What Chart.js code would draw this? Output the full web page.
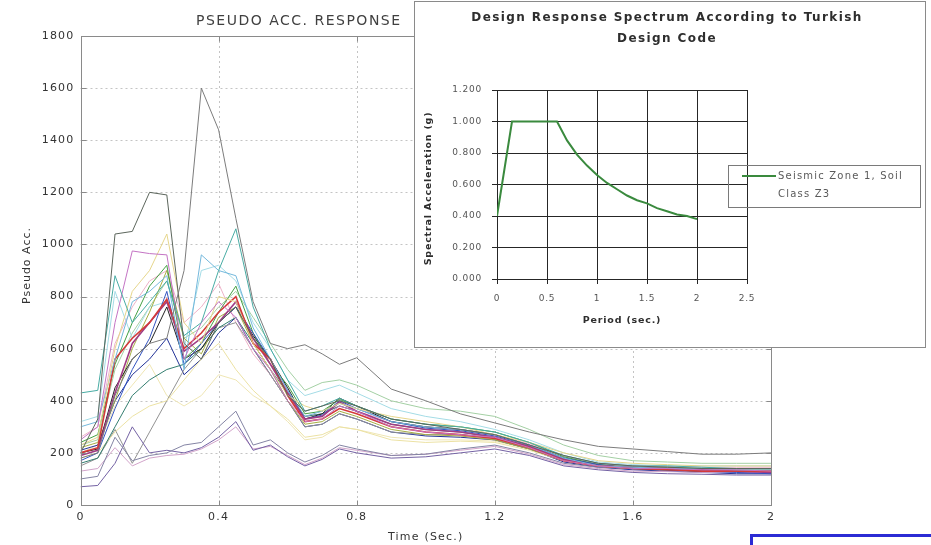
<!DOCTYPE html>
<html>
<head>
<meta charset="utf-8">
<title>Pseudo acceleration response spectra</title>
<script src="https://cdn.jsdelivr.net/npm/chart.js@4.4.1/dist/chart.umd.min.js"></script>
<style>
  html, body { margin: 0; padding: 0; background: #fff; overflow: hidden; }
  #wrap { position: relative; width: 931px; height: 545px; overflow: hidden; }
  #main { position: absolute; left: 0; top: 0; width: 931px; height: 545px; }
  #inset { position: absolute; left: 414px; top: 1px; width: 510px; height: 345px;
           border: 1px solid #8a8a8a; background: #fff; }
  #blue { position: absolute; left: 750px; top: 534px; width: 220px; height: 40px;
          border: 3px solid #2b2bd4; }
</style>
</head>
<body>
<div id="wrap">
  <div id="main"><canvas id="respChart"></canvas></div>
  <div id="inset"><canvas id="codeChart"></canvas></div>
  <div id="blue"></div>
</div>
<script>
// ---- Pseudo acceleration response spectra of the records ----
const periodSec = [0, 0.05, 0.1, 0.15, 0.2, 0.25, 0.3, 0.35, 0.4, 0.45, 0.5, 0.55, 0.6, 0.65, 0.7,
                   0.75, 0.8, 0.9, 1.0, 1.1, 1.2, 1.3, 1.4, 1.5, 1.6, 1.7, 1.8, 1.9, 2.0];

const rec01 = [180, 200, 420, 560, 620, 640, 900, 1600, 1440, 1100, 780, 620, 600, 615, 580, 540, 565, 445, 400, 350, 315, 280, 250, 225, 215, 205, 195, 195, 200];
const rec02 = [200, 330, 1040, 1050, 1200, 1190, 620, 560, 700, 760, 640, 560, 420, 360, 380, 400, 380, 330, 310, 290, 270, 230, 190, 160, 150, 145, 140, 140, 140];
const rec03 = [430, 440, 880, 700, 780, 860, 650, 700, 900, 1060, 760, 600, 480, 360, 380, 410, 380, 330, 310, 300, 280, 240, 190, 160, 150, 150, 145, 140, 140];
const rec04 = [250, 300, 700, 975, 965, 960, 560, 700, 780, 720, 600, 520, 400, 320, 330, 380, 360, 300, 280, 270, 260, 220, 170, 150, 140, 140, 135, 135, 130];
const rec05 = [230, 260, 600, 820, 900, 1040, 700, 620, 800, 780, 620, 520, 420, 380, 360, 390, 370, 340, 320, 300, 270, 240, 200, 170, 160, 155, 150, 150, 150];
const rec06 = [300, 320, 560, 780, 820, 880, 520, 960, 900, 880, 680, 560, 440, 340, 360, 390, 370, 320, 300, 290, 270, 230, 180, 150, 145, 140, 140, 135, 135];
const rec07 = [200, 220, 560, 640, 700, 790, 600, 660, 740, 800, 620, 560, 420, 320, 330, 370, 350, 300, 280, 270, 255, 220, 170, 150, 140, 135, 130, 130, 130];
const rec08 = [190, 210, 430, 620, 700, 780, 590, 640, 700, 780, 640, 540, 430, 330, 340, 395, 360, 310, 290, 280, 260, 225, 175, 150, 145, 140, 135, 130, 125];
const rec09 = [170, 200, 370, 520, 640, 820, 540, 620, 700, 760, 660, 560, 440, 330, 345, 400, 370, 320, 295, 285, 265, 230, 180, 155, 140, 135, 130, 125, 120];
const rec10 = [240, 270, 540, 700, 840, 920, 560, 620, 740, 840, 660, 540, 460, 350, 360, 405, 380, 330, 310, 300, 280, 240, 185, 155, 145, 145, 140, 140, 140];
const rec11 = [200, 215, 450, 560, 620, 760, 560, 600, 700, 760, 650, 560, 450, 330, 350, 410, 380, 320, 300, 290, 270, 230, 180, 155, 140, 135, 130, 130, 130];
const rec12 = [220, 240, 400, 600, 740, 900, 640, 580, 720, 760, 620, 520, 400, 310, 320, 360, 340, 290, 270, 265, 250, 215, 170, 150, 140, 140, 140, 135, 135];
const rec13 = [160, 180, 300, 420, 480, 520, 540, 600, 680, 720, 620, 520, 430, 340, 350, 380, 360, 310, 290, 280, 260, 225, 175, 150, 140, 135, 130, 130, 130];
const rec14 = [180, 200, 280, 340, 380, 400, 480, 560, 620, 520, 440, 380, 330, 260, 270, 300, 290, 250, 240, 245, 240, 210, 170, 150, 140, 140, 135, 135, 135];
const rec15 = [100, 110, 260, 170, 190, 200, 230, 240, 300, 360, 230, 250, 200, 165, 190, 230, 215, 190, 195, 215, 230, 200, 160, 145, 140, 135, 130, 130, 130];
const rec16 = [70, 75, 160, 300, 200, 210, 200, 220, 260, 320, 210, 230, 185, 150, 175, 215, 200, 180, 185, 200, 215, 190, 150, 135, 125, 120, 118, 115, 115];
const rec17 = [130, 140, 220, 150, 180, 190, 195, 215, 250, 300, 215, 225, 190, 155, 180, 220, 210, 190, 195, 210, 225, 195, 155, 140, 130, 128, 125, 125, 125];
const rec18 = [150, 180, 290, 160, 280, 400, 520, 600, 680, 700, 600, 500, 400, 300, 310, 350, 330, 280, 270, 270, 255, 220, 170, 150, 140, 135, 130, 128, 128];
const rec19 = [260, 300, 620, 760, 860, 900, 700, 760, 850, 700, 580, 500, 400, 340, 350, 380, 360, 320, 300, 290, 270, 235, 185, 160, 150, 148, 145, 145, 145];
const rec20 = [320, 340, 820, 640, 760, 780, 600, 900, 920, 860, 700, 600, 480, 420, 440, 460, 430, 370, 340, 320, 290, 250, 200, 165, 155, 150, 150, 150, 150];
const rec21 = [230, 250, 520, 660, 760, 860, 640, 680, 760, 820, 720, 620, 520, 440, 470, 480, 460, 400, 370, 360, 340, 290, 230, 190, 170, 165, 160, 160, 160];
const rec22 = [210, 230, 400, 500, 560, 640, 500, 560, 660, 720, 600, 500, 400, 300, 310, 350, 330, 280, 265, 260, 250, 215, 165, 145, 135, 130, 125, 120, 120];
const rec23 = [200, 230, 380, 460, 540, 420, 380, 420, 500, 480, 420, 380, 320, 250, 260, 300, 290, 260, 250, 250, 245, 215, 170, 150, 140, 140, 138, 136, 136];

const records = [rec01, rec02, rec03, rec04, rec05, rec06, rec07, rec08, rec09, rec10, rec11, rec12,
                 rec13, rec14, rec15, rec16, rec17, rec18, rec19, rec20, rec21, rec22, rec23];
const recordColors = ['#7c7c7c', '#5c665c', '#48aca4', '#c474c4', '#e6d68c', '#74b8dc', '#d43a3a',
                      '#a03c84', '#3454c0', '#44a044', '#222222', '#a6ae44', '#347e70', '#ece2a4',
                      '#8484a4', '#7462a4', '#d2a4ca', '#929292', '#eeb2c8', '#a4dce6', '#a4d0a4',
                      '#243498', '#efe6b4'];
const recordWidths = [1, 1, 1, 1, 1, 1, 1.6, 1.6, 1, 1, 1, 1, 1, 1, 1, 1, 1, 1, 1, 1, 1, 1, 1];

const timeTicks = [0, 0.4, 0.8, 1.2, 1.6, 2];
const accTicks = [0, 200, 400, 600, 800, 1000, 1200, 1400, 1600, 1800];

// ---- Design spectrum of the Turkish seismic code ----
const designPeriod = [0, 0.15, 0.6, 0.7, 0.8, 0.9, 1.0, 1.1, 1.2, 1.3, 1.4, 1.5, 1.6, 1.7, 1.8, 1.9, 2.0];
const designAcc    = [0.40, 1.00, 1.00, 0.88, 0.79, 0.72, 0.66, 0.61, 0.57, 0.53, 0.50, 0.48, 0.45, 0.43, 0.41, 0.40, 0.38];
const periodTicks = [0, 0.5, 1, 1.5, 2, 2.5];
const specTicks = [0, 0.2, 0.4, 0.6, 0.8, 1.0, 1.2];

const FONT = 'DejaVu Sans';

function pts(xs, ys) { return xs.map((x, i) => ({ x: x, y: ys[i] })); }

// dotted grid, inward tick marks, plot box and texts of the main axes
const respDecor = {
  id: 'respDecor',
  beforeUpdate(chart) { chart.ctx.letterSpacing = '1.2px'; },
  beforeDraw(chart) { chart.ctx.letterSpacing = '1.2px'; },
  beforeDatasetsDraw(chart) {
    const { ctx, chartArea: a, scales: { x, y } } = chart;
    ctx.save();
    ctx.strokeStyle = '#c4c4c4';
    ctx.lineWidth = 1;
    ctx.setLineDash([2, 3]);
    timeTicks.forEach(v => {
      const px = Math.round(x.getPixelForValue(v)) + 0.5;
      if (v > 0 && v < 2) { ctx.beginPath(); ctx.moveTo(px, a.top); ctx.lineTo(px, a.bottom); ctx.stroke(); }
    });
    accTicks.forEach(v => {
      const py = Math.round(y.getPixelForValue(v)) + 0.5;
      if (v > 0 && v < 1800) { ctx.beginPath(); ctx.moveTo(a.left, py); ctx.lineTo(a.right, py); ctx.stroke(); }
    });
    ctx.restore();
  },
  afterDraw(chart) {
    const { ctx, chartArea: a, scales: { x, y } } = chart;
    ctx.save();
    ctx.strokeStyle = '#8a8a8a';
    ctx.lineWidth = 1;
    ctx.setLineDash([]);
    const L = Math.round(a.left) + 0.5, R = Math.round(a.right) + 0.5;
    const T = Math.round(a.top) + 0.5, B = Math.round(a.bottom) + 0.5;
    ctx.strokeRect(L, T, R - L, B - T);
    ctx.beginPath();
    timeTicks.forEach(v => {
      const px = Math.round(x.getPixelForValue(v)) + 0.5;
      ctx.moveTo(px, B); ctx.lineTo(px, B - 5);
      ctx.moveTo(px, T); ctx.lineTo(px, T + 5);
    });
    accTicks.forEach(v => {
      const py = Math.round(y.getPixelForValue(v)) + 0.5;
      ctx.moveTo(L, py); ctx.lineTo(L + 5, py);
      ctx.moveTo(R, py); ctx.lineTo(R - 5, py);
    });
    ctx.stroke();

    ctx.fillStyle = '#404040';
    ctx.letterSpacing = '1.5px';
    ctx.font = '14px "' + FONT + '"';
    ctx.textAlign = 'left';
    ctx.textBaseline = 'middle';
    ctx.fillText('PSEUDO ACC. RESPONSE', 196, 21);

    ctx.fillStyle = '#333';
    ctx.letterSpacing = '1.2px';
    ctx.font = '11px "' + FONT + '"';
    ctx.textAlign = 'center';
    ctx.fillText('Time (Sec.)', (a.left + a.right) / 2, 537);

    ctx.translate(27, (a.top + a.bottom) / 2 - 5);
    ctx.rotate(-Math.PI / 2);
    ctx.letterSpacing = '1px';
    ctx.fillText('Pseudo Acc.', 0, 0);
    ctx.restore();
  }
};

new Chart(document.getElementById('respChart'), {
  type: 'line',
  data: {
    datasets: records.map((r, i) => ({
      label: 'Record ' + (i + 1),
      data: pts(periodSec, r),
      borderColor: recordColors[i],
      borderWidth: recordWidths[i],
      pointRadius: 0,
      tension: 0,
      fill: false
    }))
  },
  options: {
    responsive: true,
    maintainAspectRatio: false,
    animation: false,
    layout: { padding: { top: 36, right: 160, left: 0, bottom: 0 } },
    plugins: { legend: { display: false }, tooltip: { enabled: false }, title: { display: false } },
    scales: {
      x: {
        type: 'linear', min: 0, max: 2,
        afterBuildTicks: s => { s.ticks = timeTicks.map(v => ({ value: v })); },
        afterFit: s => { s.height = 40; },
        grid: { display: false, drawTicks: false },
        border: { display: false },
        ticks: {
          padding: 6, color: '#333', maxRotation: 0, autoSkip: false,
          font: { family: FONT, size: 11 },
          callback: v => String(Math.round(v * 10) / 10)
        }
      },
      y: {
        type: 'linear', min: 0, max: 1800,
        afterBuildTicks: s => { s.ticks = accTicks.map(v => ({ value: v })); },
        afterFit: s => { s.width = 80.5; },
        grid: { display: false, drawTicks: false },
        border: { display: false },
        ticks: {
          padding: 6, color: '#333', autoSkip: false,
          font: { family: FONT, size: 11 },
          callback: v => String(v)
        }
      }
    }
  },
  plugins: [respDecor]
});

// titles and boxed legend of the design spectrum
const codeDecor = {
  id: 'codeDecor',
  beforeUpdate(chart) { chart.ctx.letterSpacing = '0.8px'; },
  beforeDraw(chart) { chart.ctx.letterSpacing = '0.8px'; },
  afterDraw(chart) {
    const { ctx, chartArea: a } = chart;
    ctx.save();
    ctx.fillStyle = '#2e2e2e';
    ctx.textAlign = 'center';
    ctx.textBaseline = 'middle';
    ctx.letterSpacing = '1.4px';
    ctx.font = 'bold 12px "' + FONT + '"';
    ctx.fillText('Design Response Spectrum According to Turkish', 252, 16);
    ctx.fillText('Design Code', 252, 37);

    ctx.letterSpacing = '0.8px';
    ctx.font = 'bold 9.5px "' + FONT + '"';
    ctx.fillText('Period (sec.)', (a.left + a.right) / 2, 319);
    ctx.save();
    ctx.translate(14, (a.top + a.bottom) / 2 + 4);
    ctx.rotate(-Math.PI / 2);
    ctx.fillText('Spectral Acceleration (g)', 0, 0);
    ctx.restore();

    // legend box
    const lx = 313, ly = 163, lw = 192, lh = 42;
    ctx.strokeStyle = '#7a7a7a';
    ctx.lineWidth = 1;
    ctx.strokeRect(lx + 0.5, ly + 0.5, lw, lh);
    const ds = chart.data.datasets[0];
    ctx.strokeStyle = ds.borderColor;
    ctx.lineWidth = 2;
    ctx.beginPath();
    ctx.moveTo(lx + 14, ly + 11); ctx.lineTo(lx + 48, ly + 11);
    ctx.stroke();
    ctx.fillStyle = '#5a5a5a';
    ctx.textAlign = 'left';
    ctx.letterSpacing = '1.2px';
    ctx.font = '10px "' + FONT + '"';
    ds.label.split('|').forEach((t, i) => ctx.fillText(t, lx + 50, ly + 11 + i * 18));
    ctx.restore();
  }
};

new Chart(document.getElementById('codeChart'), {
  type: 'line',
  data: {
    datasets: [{
      label: 'Seismic Zone 1, Soil|Class Z3',
      data: pts(designPeriod, designAcc),
      borderColor: '#3a8a3e',
      borderWidth: 2,
      pointRadius: 0,
      tension: 0,
      fill: false
    }]
  },
  options: {
    responsive: true,
    maintainAspectRatio: false,
    animation: false,
    layout: { padding: { top: 88, right: 178, left: 0, bottom: 0 } },
    plugins: { legend: { display: false }, tooltip: { enabled: false }, title: { display: false } },
    scales: {
      x: {
        type: 'linear', min: 0, max: 2.5,
        afterBuildTicks: s => { s.ticks = periodTicks.map(v => ({ value: v })); },
        afterFit: s => { s.height = 68; },
        grid: { color: '#262626', lineWidth: 1, tickLength: 5 },
        border: { color: '#262626' },
        ticks: {
          padding: 9, color: '#555', maxRotation: 0, autoSkip: false,
          font: { family: FONT, size: 9 },
          callback: v => String(v)
        }
      },
      y: {
        type: 'linear', min: 0, max: 1.2,
        afterBuildTicks: s => { s.ticks = specTicks.map(v => ({ value: v })); },
        afterFit: s => { s.width = 82; },
        grid: { color: '#262626', lineWidth: 1, tickLength: 5 },
        border: { color: '#262626' },
        ticks: {
          padding: 10, color: '#555', autoSkip: false,
          font: { family: FONT, size: 9 },
          callback: v => v.toFixed(3)
        }
      }
    }
  },
  plugins: [codeDecor]
});
</script>
</body>
</html>
